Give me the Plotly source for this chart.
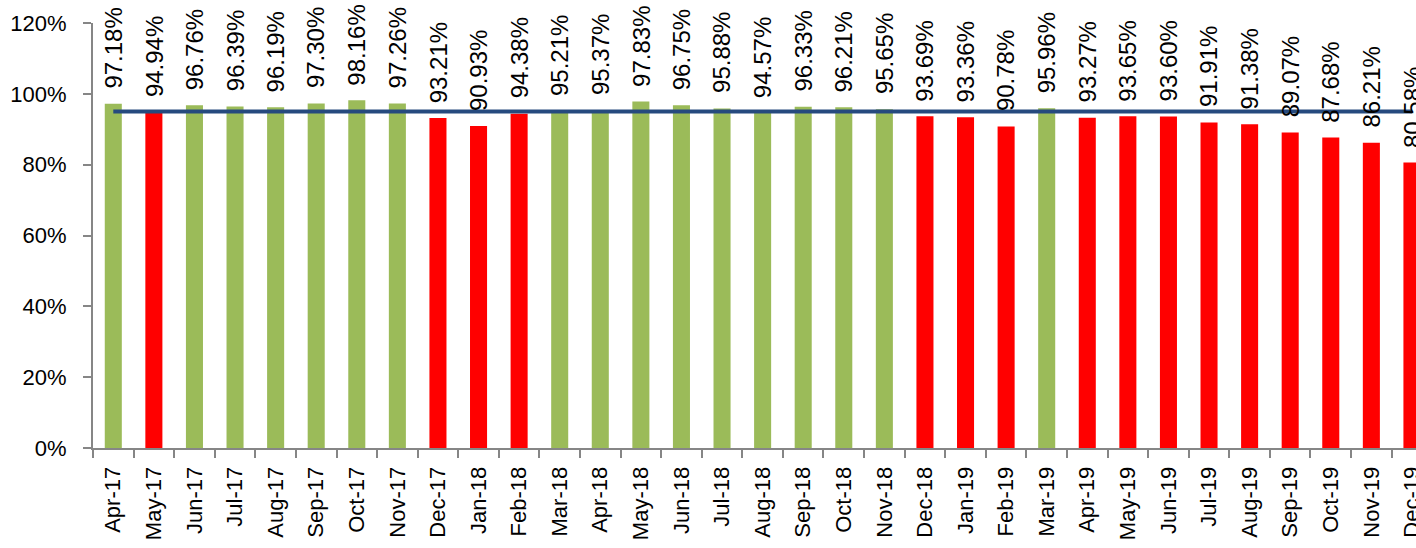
import plotly.graph_objects as go

# Monthly performance against the 95% target
months = ["Apr-17", "May-17", "Jun-17", "Jul-17", "Aug-17", "Sep-17", "Oct-17", "Nov-17",
          "Dec-17", "Jan-18", "Feb-18", "Mar-18", "Apr-18", "May-18", "Jun-18", "Jul-18",
          "Aug-18", "Sep-18", "Oct-18", "Nov-18", "Dec-18", "Jan-19", "Feb-19", "Mar-19",
          "Apr-19", "May-19", "Jun-19", "Jul-19", "Aug-19", "Sep-19", "Oct-19", "Nov-19",
          "Dec-19"]
performance = [97.18, 94.94, 96.76, 96.39, 96.19, 97.30, 98.16, 97.26,
               93.21, 90.93, 94.38, 95.21, 95.37, 97.83, 96.75, 95.88,
               94.57, 96.33, 96.21, 95.65, 93.69, 93.36, 90.78, 95.96,
               93.27, 93.65, 93.60, 91.91, 91.38, 89.07, 87.68, 86.21,
               80.58]
# RAG status per month: G = met, R = missed
status = ["G", "R", "G", "G", "G", "G", "G", "G",
          "R", "R", "R", "G", "G", "G", "G", "G",
          "G", "G", "G", "G", "R", "R", "R", "G",
          "R", "R", "R", "R", "R", "R", "R", "R",
          "R"]
target = [95.0] * len(months)

status_colours = {"G": "#9BBB59", "R": "#FF0000"}
bar_colours = [status_colours[s] for s in status]

FONT = "Liberation Sans, Arial, sans-serif"

fig = go.Figure()
fig.add_trace(go.Bar(
    x=months, y=performance,
    marker=dict(color=bar_colours, line=dict(width=0)),
    width=0.42,
    showlegend=False,
    hoverinfo="x+y",
))
fig.add_trace(go.Scatter(
    x=months, y=target,
    mode="lines",
    line=dict(color="#264A7E", width=4),
    showlegend=False,
))

for m, v in zip(months, performance):
    fig.add_annotation(
        x=m, y=v, xref="x", yref="y",
        text=f"{v:.2f}%",
        textangle=-90,
        showarrow=False,
        xanchor="center", yanchor="bottom",
        yshift=13,
        font=dict(family=FONT, size=24, color="#000000"),
    )

fig.update_layout(
    width=1416, height=548,
    margin=dict(l=93, r=0, t=23, b=100, autoexpand=False),
    paper_bgcolor="white", plot_bgcolor="white",
    font=dict(family=FONT, size=22, color="#000000"),
    xaxis=dict(
        type="category",
        range=[-0.5, 32.1],
        automargin=False,
        tickangle=-90,
        showline=True, linecolor="#868686", linewidth=2,
        ticks="outside", ticklen=8, tickcolor="#868686", tickwidth=2,
        tickson="boundaries",
        ticklabelstandoff=8,
        showgrid=False,
        tickfont=dict(family=FONT, size=22, color="#000000"),
    ),
    yaxis=dict(
        range=[0, 120],
        automargin=False,
        tickvals=[0, 20, 40, 60, 80, 100, 120],
        ticktext=["0%", "20%", "40%", "60%", "80%", "100%", "120%"],
        showline=True, linecolor="#868686", linewidth=2,
        ticks="outside", ticklen=8, tickcolor="#868686", tickwidth=2,
        ticklabelstandoff=12,
        showgrid=False, zeroline=False,
        tickfont=dict(family=FONT, size=22, color="#000000"),
    ),
)

fig.write_html("out.html")
